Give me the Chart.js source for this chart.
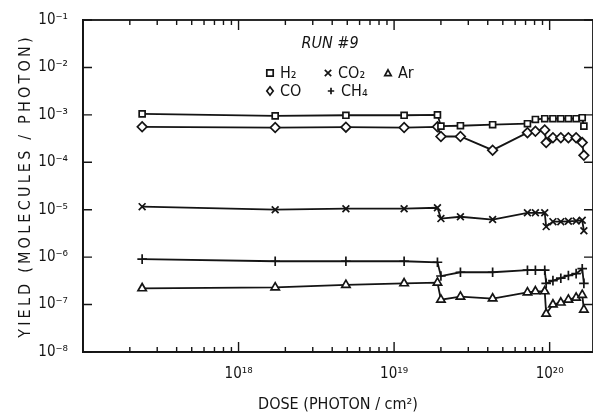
<!DOCTYPE html>
<html lang="en">
<head>
  <meta charset="UTF-8" />
  <title>Run #9 - Yield vs dose</title>
  <script src="https://cdn.jsdelivr.net/npm/chart.js@4"></script>
  <style>
    html, body { margin: 0; padding: 0; background: #fff; overflow: hidden; }
    #wrap { width: 593px; height: 414px; }
    canvas { display: block; }
  </style>
</head>
<body>
  <div id="wrap"><canvas id="grafico"></canvas></div>

  <script>
    // dose (photon / cm^2), shared by all gases
    const dose = [2.4e17, 1.72e18, 4.9e18, 1.16e19, 1.9e19, 2.0e19, 2.67e19, 4.3e19, 7.2e19, 8.1e19,
                  9.3e19, 9.5e19, 1.05e20, 1.18e20, 1.32e20, 1.48e20, 1.62e20, 1.66e20];

    // yield (molecules / photon)
    const yieldH2  = [1.05e-3, 9.5e-4, 9.8e-4, 9.8e-4, 1.0e-3, 5.8e-4, 5.9e-4, 6.2e-4, 6.5e-4, 8.0e-4,
                      8.3e-4, null, 8.3e-4, 8.3e-4, 8.3e-4, 8.3e-4, 8.7e-4, 5.8e-4];
    const yieldCO  = [5.6e-4, 5.4e-4, 5.5e-4, 5.4e-4, 5.6e-4, 3.5e-4, 3.5e-4, 1.8e-4, 4.2e-4, 4.5e-4,
                      4.8e-4, 2.6e-4, 3.3e-4, 3.3e-4, 3.3e-4, 3.3e-4, 2.6e-4, 1.4e-4];
    const yieldCO2 = [1.16e-5, 1.0e-5, 1.05e-5, 1.05e-5, 1.1e-5, 6.5e-6, 7.1e-6, 6.2e-6, 8.6e-6, 8.6e-6,
                      8.6e-6, 4.4e-6, 5.6e-6, 5.6e-6, 5.7e-6, 5.8e-6, 6.0e-6, 3.6e-6];
    const yieldCH4 = [9.1e-7, 8.2e-7, 8.2e-7, 8.2e-7, 7.8e-7, 4.0e-7, 4.8e-7, 4.8e-7, 5.3e-7, 5.3e-7,
                      5.3e-7, 2.8e-7, 3.2e-7, 3.6e-7, 4.1e-7, 4.5e-7, 5.7e-7, 2.8e-7];
    const yieldAr  = [2.2e-7, 2.3e-7, 2.6e-7, 2.8e-7, 2.9e-7, 1.27e-7, 1.47e-7, 1.34e-7, 1.8e-7, 1.9e-7,
                      1.9e-7, 6.4e-8, 1.0e-7, 1.1e-7, 1.27e-7, 1.4e-7, 1.6e-7, 7.8e-8];

    // decades that get a label
    const xDecades = [18, 19, 20];
    const yDecades = [-8, -7, -6, -5, -4, -3, -2, -1];

    // tick positions: 1..9 x 10^n on the dose axis, decades only on the yield axis
    const xTicks = [];
    [17, 18, 19, 20].forEach(e => [1, 2, 3, 4, 5, 6, 7, 8, 9].forEach(m => {
      const v = m * Math.pow(10, e);
      if (v >= 1e17 && v <= 1.9e20) xTicks.push(v);
    }));
    const yTicks = yDecades.map(e => Math.pow(10, e));

    const FONT = "'DejaVu Sans Condensed', 'DejaVu Sans', sans-serif";
    const INK = "#141414";

    const sup = s => String(s).split("").map(c => ({"-": "⁻", "0": "⁰", "1": "¹", "2": "²", "3": "³",
      "4": "⁴", "5": "⁵", "6": "⁶", "7": "⁷", "8": "⁸", "9": "⁹"}[c])).join("");
    const expOf = v => Math.round(Math.log10(v));
    const isDecade = v => Math.abs(Math.log10(v) - expOf(v)) < 1e-6;

    function serie(label, data, style, radius) {
      return {
        label, data: data.map((v, i) => ({ x: dose[i], y: v })),
        borderColor: INK, backgroundColor: "#fff", borderWidth: 1.8,
        pointStyle: style, pointRadius: radius, pointBorderWidth: 1.7,
        pointBackgroundColor: "#fff", pointBorderColor: INK,
        spanGaps: true, tension: 0
      };
    }

    // frame with inward ticks, like the original plot
    const moldura = {
      id: "moldura",
      afterDraw(chart) {
        const ctx = chart.ctx;
        const a = chart.chartArea;
        const x = chart.scales.x, y = chart.scales.y;
        ctx.save();
        ctx.strokeStyle = INK;
        ctx.lineWidth = 1.8;
        ctx.strokeRect(a.left, a.top, a.right - a.left, a.bottom - a.top);
        ctx.lineWidth = 1.4;
        ctx.beginPath();
        for (const v of xTicks) {
          const px = x.getPixelForValue(v);
          if (px <= a.left + 2 || px >= a.right - 2) continue;
          const len = isDecade(v) ? 10 : 5;
          ctx.moveTo(px, a.bottom); ctx.lineTo(px, a.bottom - len);
          ctx.moveTo(px, a.top); ctx.lineTo(px, a.top + len);
        }
        for (const v of yTicks) {
          const py = y.getPixelForValue(v);
          ctx.moveTo(a.left, py); ctx.lineTo(a.left + 9, py);
          ctx.moveTo(a.right, py); ctx.lineTo(a.right - 9, py);
        }
        ctx.stroke();
        ctx.restore();
      }
    };

    // legend block and spaced y title
    function marca(ctx, tipo, cx, cy, r) {
      ctx.beginPath();
      if (tipo === "rect") { ctx.rect(cx - r, cy - r, 2 * r, 2 * r); }
      if (tipo === "rectRot") { ctx.moveTo(cx, cy - r * 1.3); ctx.lineTo(cx + r, cy); ctx.lineTo(cx, cy + r * 1.3); ctx.lineTo(cx - r, cy); ctx.closePath(); }
      if (tipo === "triangle") { ctx.moveTo(cx, cy - r); ctx.lineTo(cx + r, cy + r * 0.8); ctx.lineTo(cx - r, cy + r * 0.8); ctx.closePath(); }
      if (tipo === "crossRot") { ctx.moveTo(cx - r, cy - r); ctx.lineTo(cx + r, cy + r); ctx.moveTo(cx + r, cy - r); ctx.lineTo(cx - r, cy + r); }
      if (tipo === "cross") { ctx.moveTo(cx - r, cy); ctx.lineTo(cx + r, cy); ctx.moveTo(cx, cy - r); ctx.lineTo(cx, cy + r); }
      ctx.stroke();
    }

    const legenda = {
      id: "legenda",
      afterDraw(chart) {
        const { ctx, chartArea: a } = chart;
        const L = a.left, T = a.top;
        ctx.save();
        ctx.fillStyle = INK; ctx.strokeStyle = INK; ctx.lineWidth = 1.7;
        ctx.textBaseline = "middle";
        ctx.textAlign = "center";
        ctx.font = "italic 16px " + FONT;
        ctx.fillText("RUN #9", L + 247, T + 24);
        ctx.textAlign = "left";
        ctx.font = "16px " + FONT;
        const itens = [
          ["rect", "H₂", 187, 53], ["crossRot", "CO₂", 245, 53], ["triangle", "Ar", 305, 53],
          ["rectRot", "CO", 187, 71], ["cross", "CH₄", 248, 71]
        ];
        itens.forEach(([tipo, txt, dx, dy]) => {
          marca(ctx, tipo, L + dx, T + dy, 3.2);
          ctx.fillText(txt, L + dx + 10, T + dy + 1);
        });

        // y axis title, widely spaced letters as in the scan
        ctx.translate(26, (a.top + a.bottom) / 2);
        ctx.rotate(-Math.PI / 2);
        ctx.textAlign = "center";
        ctx.font = "16px " + FONT;
        ctx.letterSpacing = "3.2px";
        ctx.fillText("YIELD (MOLECULES / PHOTON)", 0, 0);
        ctx.restore();
      }
    };

    new Chart(document.getElementById("grafico"), {
      type: "line",
      data: {
        datasets: [
          serie("H₂", yieldH2, "rect", 4.2),
          serie("CO", yieldCO, "rectRot", 4.8),
          serie("CO₂", yieldCO2, "crossRot", 4.8),
          serie("CH₄", yieldCH4, "cross", 4.8),
          serie("Ar", yieldAr, "triangle", 4.8)
        ]
      },
      options: {
        responsive: true,
        maintainAspectRatio: false,
        animation: false,
        layout: { autoPadding: false, padding: { top: 20, left: 0, right: 0, bottom: 0 } },
        plugins: {
          legend: { display: false },
          tooltip: { enabled: false }
        },
        scales: {
          x: {
            type: "logarithmic",
            min: 1e17,
            max: 1.9e20,
            afterBuildTicks: s => { s.ticks = xTicks.map(v => ({ value: v })); },
            afterFit: s => { s.height = 62; s.paddingRight = 0; s.paddingLeft = 0; },
            grid: { display: false },
            border: { display: true, color: INK, width: 1.8 },
            ticks: {
              autoSkip: false, maxRotation: 0, padding: 5,
              color: INK, font: { family: FONT, size: 15 },
              callback: v => (isDecade(v) && xDecades.includes(expOf(v))) ? "10" + sup(expOf(v)) : ""
            },
            title: {
              display: true, text: "DOSE (PHOTON / cm²)", color: INK,
              font: { family: FONT, size: 16 }, padding: { top: 0, bottom: 0 }
            }
          },
          y: {
            type: "logarithmic",
            min: 1e-8,
            max: 1e-1,
            afterBuildTicks: s => { s.ticks = yTicks.map(v => ({ value: v })); },
            afterFit: s => { s.width = 83; },
            grid: { display: false },
            border: { display: true, color: INK, width: 1.8 },
            ticks: {
              autoSkip: false, padding: 7,
              color: INK, font: { family: FONT, size: 15 },
              callback: v => "10" + sup(expOf(v))
            },
            title: { display: false }
          }
        }
      },
      plugins: [moldura, legenda]
    });
  </script>
</body>
</html>
